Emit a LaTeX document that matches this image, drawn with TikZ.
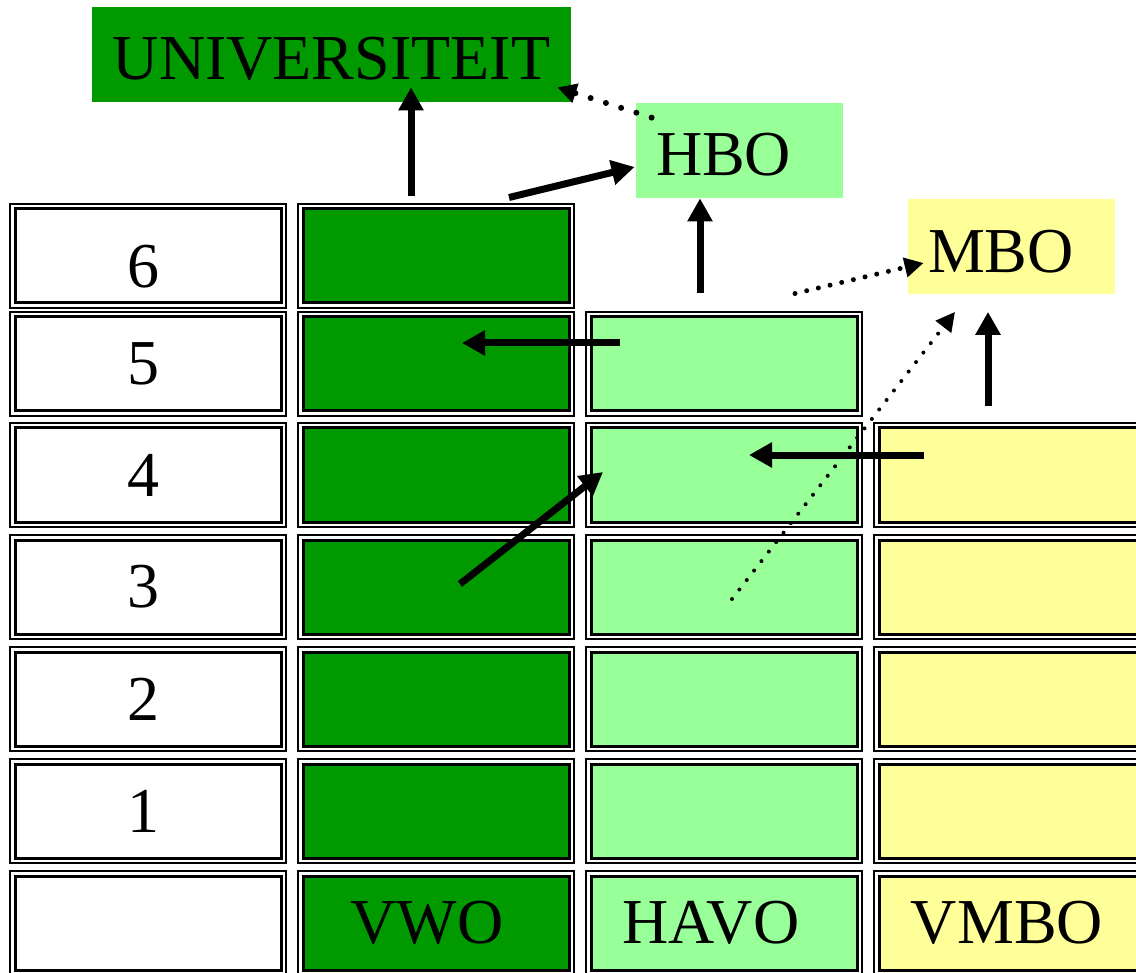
\documentclass[tikz,border=0pt]{standalone}
\usepackage{fontspec}
\setmainfont{Liberation Serif}
\usetikzlibrary{arrows.meta,calc}
\definecolor{vwogreen}{HTML}{009900}
\definecolor{havogreen}{HTML}{99FF99}
\definecolor{vmboyellow}{HTML}{FFFF99}

\begin{document}
\begin{tikzpicture}[x=0.5pt, y=-0.5pt,
    font=\fontsize{32}{38}\selectfont,
    cell/.style={draw, line width=1.5pt, fill=white, inner sep=0pt,
        minimum width=133pt, minimum height=47pt,
        preaction={draw, line width=6pt},
        preaction={draw=white, line width=4pt}},
    level/.style={inner sep=0pt, minimum height=47.5pt,
        text height=25.5pt, text depth=0pt},
    sidelevel/.style={level, inner xsep=10pt, text width=83.5pt, align=left},
    arr/.style={-{Triangle[length=11.5pt, width=12pt]}, line width=3.5pt},
    dots/.style={-{Triangle[length=9.5pt, width=9.5pt]}, line width=3pt,
        line cap=round, dash pattern=on 0pt off 8pt}]
    \useasboundingbox (0,0) rectangle (1136,973);
    \foreach \r/\y in {1/811,2/699,3/587,4/475,5/364}
        \node[cell] (l\r) at (148,\y) {\r\kern5pt};
    \node[cell, text height=31.5pt, text depth=0pt] (l6) at (148,256)
        {6\kern5pt};
    \foreach \r/\y in {1/811,2/699,3/587,4/475,5/364,6/256}
        \node[cell, fill=vwogreen] (v\r) at (436,\y) {};
    \foreach \r/\y in {1/811,2/699,3/587,4/475,5/364}
        \node[cell, fill=havogreen] (h\r) at (724,\y) {};
    \foreach \r/\y in {1/811,2/699,3/587,4/475}
        \node[cell, fill=vmboyellow] (m\r) at (1012,\y) {};
    \node[cell] (lb) at (148,923) {};
    \node[cell, fill=vwogreen] (vb) at (436,923) {VWO\kern9pt};
    \node[cell, fill=havogreen] (hb) at (724,923) {HAVO\kern13pt};
    \node[cell, fill=vmboyellow] (mb) at (1012,923) {VMBO\kern5pt};

    \node[level, fill=vwogreen, minimum width=239.5pt] (uni) at (331.5,54.5)
        {UNIVERSITEIT};
    \node[sidelevel, fill=havogreen] (hbo) at (739.5,150.5) {HBO};
    \node[sidelevel, fill=vmboyellow] (mbo) at (1011.5,247) {MBO};

    \draw[arr] ($(v6.north)+(-25,-11)$) -- ($(uni.south)+(79.5,-15)$);
    \draw[arr] ($(v6.north)+(73,-10)$) -- ($(hbo.west)+(-1,16.5)$);
    \draw[dots] ($(hbo.north west)+(16,15)$) -- ($(uni.south east)+(-14,-15)$);
    \draw[arr] ($(h5.north)+(-24,-22)$) -- ($(hbo.south)+(-39.5,0)$);
    \draw[dots, line width=2.5pt, dash pattern=on 0pt off 6pt]
        ($(h5.north)+(71,-22)$) -- ($(mbo.west)+(16,16)$);
    \draw[arr] ($(h5.center)+(-104,-21)$) -- ($(v5.center)+(26,-21)$);
    \draw[arr] ($(m4.center)+(-88,-20)$) -- ($(h4.center)+(25,-20)$);
    \draw[arr] ($(v3.center)+(24,-3)$) -- ($(h4.center)+(-121,-3)$);
    \draw[dots, line width=2pt, dash pattern=on 0pt off 6pt]
        ($(h3.center)+(8,12)$) -- ($(mbo.south)+(-56.5,17)$);
    \draw[arr] ($(m4.north)+(-24,-20)$) -- ($(mbo.south)+(-23.5,17)$);
\end{tikzpicture}
\end{document}
